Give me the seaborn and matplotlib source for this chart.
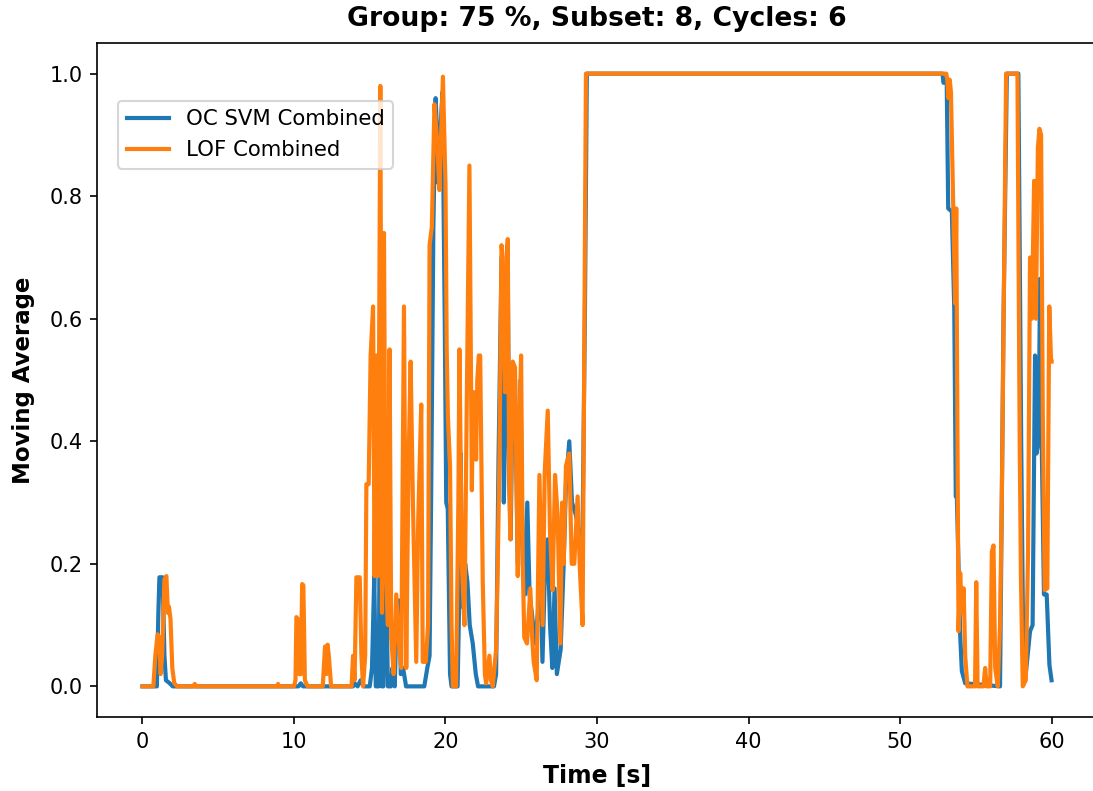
import numpy as np
import pandas as pd
import matplotlib
matplotlib.use("Agg")
import matplotlib.pyplot as plt
import seaborn as sns

# ---- data ----
svm_time = [0.0, 0.95, 1.05, 1.12, 1.33, 1.45, 1.55, 1.8, 2.0, 10.3, 10.45, 10.6,
            13.9, 14.0, 14.2, 14.4, 14.6, 15.0, 15.15, 15.3, 15.4, 15.6, 15.7, 15.8,
            15.9, 16.0, 16.1, 16.2, 16.4, 16.5, 16.65, 16.8, 16.95, 17.05, 17.2, 17.4,
            18.6, 18.8, 18.95, 19.05, 19.2, 19.35, 19.45, 19.55, 19.65, 19.8, 19.95,
            20.05, 20.15, 20.3, 20.4, 20.8, 20.92, 21.0, 21.1, 21.3, 21.45, 21.6, 21.8,
            22.0, 22.15, 23.2, 23.34, 23.5, 23.7, 23.85, 23.95, 24.1, 24.2, 24.3, 24.44,
            24.59, 24.77, 24.95, 25.1, 25.25, 25.4, 25.55, 25.7, 25.9, 26.1, 26.25, 26.4,
            26.6, 26.75, 26.9, 27.05, 27.2, 27.35, 27.6, 27.8, 27.95, 28.17, 28.35, 28.6,
            28.75, 28.9, 29.05, 29.2, 29.33, 52.8, 52.87, 52.95, 53.08, 53.18, 53.42,
            53.58, 53.68, 53.75, 53.97, 54.08, 54.3, 56.6, 56.83, 57.05, 57.81, 58.0,
            58.14, 58.3, 58.58, 58.75, 58.91, 59.0, 59.15, 59.24, 59.35, 59.5, 59.68,
            59.86, 60.0]
svm_value = [0.0, 0.0, 0.12, 0.178, 0.178, 0.05, 0.01, 0.005, 0.0, 0.0, 0.005, 0.0,
             0.0, 0.005, 0.0, 0.01, 0.0, 0.0, 0.03, 0.18, 0.0, 0.0, 0.5, 0.0,
             0.0, 0.17, 0.15, 0.0, 0.0, 0.03, 0.0, 0.14, 0.14, 0.02, 0.03, 0.0,
             0.0, 0.03, 0.05, 0.3, 0.75, 0.96, 0.9, 0.82, 0.9, 0.97, 0.6,
             0.3, 0.29, 0.02, 0.0, 0.0, 0.16, 0.38, 0.13, 0.2, 0.17, 0.1, 0.07,
             0.02, 0.0, 0.0, 0.02, 0.37, 0.7, 0.3, 0.45, 0.72, 0.35, 0.24, 0.5,
             0.5, 0.2, 0.5, 0.2, 0.15, 0.3, 0.15, 0.12, 0.07, 0.12, 0.2, 0.04,
             0.22, 0.24, 0.1, 0.03, 0.16, 0.02, 0.06, 0.2, 0.33, 0.4, 0.3, 0.28,
             0.26, 0.22, 0.26, 0.6, 1.0, 1.0, 0.985, 0.99, 0.99, 0.78, 0.775,
             0.615, 0.31, 0.31, 0.084, 0.025, 0.005, 0.0, 0.6, 1.0, 1.0, 0.39,
             0.04, 0.02, 0.09, 0.1, 0.54, 0.38, 0.4, 0.665, 0.4, 0.15, 0.15,
             0.035, 0.01]

lof_time = [0.0, 0.72, 0.85, 1.0, 1.1, 1.2, 1.3, 1.45, 1.58, 1.68, 1.75, 1.85, 1.97,
            2.1, 2.3, 3.35, 3.45, 3.55, 8.9, 8.95, 9.0, 10.0, 10.1, 10.16, 10.25, 10.35,
            10.45, 10.54, 10.62, 10.72, 10.9, 11.9, 12.05, 12.15, 12.22, 12.3, 12.45,
            13.8, 13.9, 14.0, 14.12, 14.34, 14.45, 14.56, 14.7, 14.78, 14.93, 15.06,
            15.22, 15.32, 15.43, 15.55, 15.7, 15.81, 15.94, 16.05, 16.2, 16.31, 16.42,
            16.58, 16.75, 16.93, 17.08, 17.26, 17.41, 17.56, 17.7, 17.85, 18.07, 18.2,
            18.4, 18.5, 18.7, 18.85, 18.95, 19.1, 19.27, 19.45, 19.6, 19.83, 20.0,
            20.08, 20.16, 20.3, 20.4, 20.49, 20.7, 20.85, 20.92, 21.0, 21.08, 21.25,
            21.4, 21.58, 21.74, 21.82, 21.91, 21.97, 22.02, 22.1, 22.2, 22.29, 22.46,
            22.6, 22.68, 22.8, 22.9, 23.0, 23.12, 23.34, 23.45, 23.56, 23.7, 23.78,
            23.93, 24.02, 24.11, 24.2, 24.28, 24.44, 24.59, 24.77, 24.9, 24.99, 25.1,
            25.2, 25.38, 25.5, 25.6, 25.72, 25.82, 26.02, 26.2, 26.41, 26.55, 26.75,
            26.9, 27.07, 27.23, 27.4, 27.58, 27.7, 27.8, 27.95, 28.17, 28.33, 28.5,
            28.72, 28.87, 29.05, 29.27, 53.05, 53.12, 53.2, 53.28, 53.36, 53.64, 53.71,
            53.86, 53.97, 54.08, 54.2, 54.3, 54.45, 54.63, 54.95, 55.03, 55.12, 55.5,
            55.62, 55.72, 55.95, 56.06, 56.17, 56.28, 56.45, 56.6, 56.72, 57.0, 57.75,
            57.9, 57.98, 58.1, 58.3, 58.45, 58.58, 58.7, 58.85, 58.97, 59.1, 59.2,
            59.31, 59.42, 59.55, 59.72, 59.85, 59.97, 60.0]
lof_value = [0.0, 0.0, 0.05, 0.085, 0.08, 0.02, 0.05, 0.175, 0.18, 0.12, 0.13, 0.11, 0.03,
             0.005, 0.0, 0.0, 0.004, 0.0, 0.0, 0.004, 0.0, 0.0, 0.01, 0.113, 0.11, 0.02,
             0.02, 0.167, 0.165, 0.01, 0.0, 0.0, 0.065, 0.02, 0.068, 0.05, 0.0,
             0.0, 0.05, 0.01, 0.178, 0.178, 0.05, 0.0, 0.05, 0.33, 0.33, 0.54,
             0.62, 0.18, 0.54, 0.18, 0.98, 0.12, 0.74, 0.2, 0.1, 0.55, 0.08,
             0.02, 0.15, 0.07, 0.03, 0.62, 0.03, 0.36, 0.53, 0.3, 0.04, 0.27,
             0.46, 0.04, 0.04, 0.1, 0.72, 0.75, 0.95, 0.89, 0.81, 0.995, 0.82,
             0.55, 0.44, 0.36, 0.1, 0.0, 0.0, 0.3, 0.55, 0.37, 0.2, 0.1,
             0.45, 0.85, 0.32, 0.48, 0.4, 0.48, 0.37, 0.5, 0.54, 0.54, 0.17,
             0.02, 0.005, 0.03, 0.05, 0.01, 0.0, 0.06, 0.2, 0.37, 0.72, 0.7,
             0.48, 0.65, 0.73, 0.35, 0.24, 0.53, 0.52, 0.18, 0.45, 0.54, 0.2,
             0.08, 0.07, 0.12, 0.16, 0.08, 0.04, 0.01, 0.345, 0.1, 0.35, 0.45,
             0.25, 0.157, 0.345, 0.28, 0.07, 0.3, 0.2, 0.36, 0.38, 0.2, 0.2,
             0.31, 0.19, 0.1, 1.0, 1.0, 0.99, 0.96, 0.99, 0.97, 0.625, 0.78,
             0.09, 0.185, 0.12, 0.16, 0.05, 0.0, 0.0, 0.0, 0.17, 0.0, 0.0,
             0.03, 0.0, 0.0, 0.22, 0.23, 0.03, 0.0, 0.1, 0.31, 1.0, 1.0,
             0.39, 0.178, 0.0, 0.01, 0.22, 0.7, 0.6, 0.825, 0.6, 0.88, 0.91,
             0.9, 0.45, 0.157, 0.16, 0.62, 0.53, 0.53]

series_labels = ["OC SVM Combined", "LOF Combined"]
title_text = "Group: 75 %, Subset: 8, Cycles: 6"
x_label = "Time [s]"
y_label = "Moving Average"

df_svm = pd.DataFrame({"t": svm_time, "v": svm_value})
df_lof = pd.DataFrame({"t": lof_time, "v": lof_value})

fig = plt.figure(figsize=(1093 / 150, 791 / 150), dpi=150)
ax = fig.add_axes([97 / 1093, 1 - 717 / 791, 1000 / 1093, 674 / 791])

sns.lineplot(data=df_svm, x="t", y="v", ax=ax, color="#1f77b4", linewidth=2.0,
             label=series_labels[0], sort=False, estimator=None)
sns.lineplot(data=df_lof, x="t", y="v", ax=ax, color="#ff7f0e", linewidth=2.0,
             label=series_labels[1], sort=False, estimator=None)

ax.set_xlim(-3, 63)
ax.set_ylim(-0.05, 1.05)
ax.set_xticks([0, 10, 20, 30, 40, 50, 60])
ax.set_yticks([0.0, 0.2, 0.4, 0.6, 0.8, 1.0])
ax.set_yticklabels(["0.0", "0.2", "0.4", "0.6", "0.8", "1.0"])
ax.spines["right"].set_visible(False)
ax.set_xlabel(x_label, fontsize=11.3, fontweight="bold", labelpad=6)
ax.set_ylabel(y_label, fontsize=11, fontweight="bold", labelpad=7)
ax.set_title(title_text, fontsize=12.8, fontweight="bold", pad=8)
ax.legend(loc="upper left", bbox_to_anchor=(0.021, 0.914), borderaxespad=0,
          fontsize=10.2)

fig.savefig("out.png", dpi=150)
